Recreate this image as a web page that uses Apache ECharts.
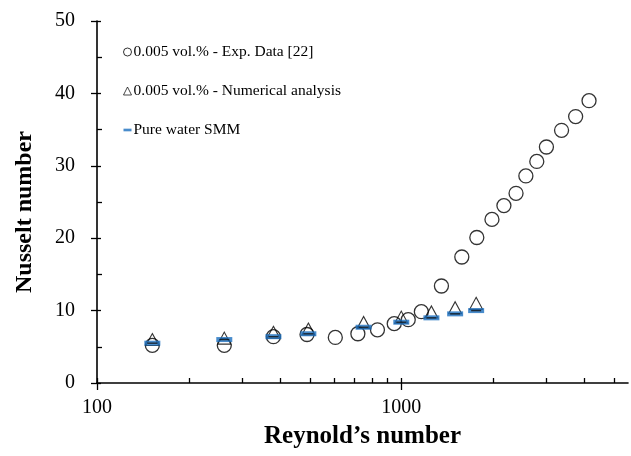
<!DOCTYPE html>
<html>
<head>
<meta charset="utf-8">
<script src="https://cdn.jsdelivr.net/npm/echarts@6/dist/echarts.min.js"></script>
<style>
  html, body { margin: 0; padding: 0; background: #fff; }
  #chart { width: 631px; height: 456px; }
</style>
</head>
<body>
<div id="chart"></div>
<script>
// Experimental data, 0.005 vol.% (Reynolds number, Nusselt number)
const expRe = [152, 262, 380, 490, 607, 720, 835, 948, 1054, 1164, 1355, 1581,
               1771, 1986, 2174, 2383, 2567, 2788, 2999, 3363, 3741, 4140];
const expNu = [5.2, 5.2, 6.4, 6.7, 6.3, 6.8, 7.35, 8.2, 8.75, 9.85, 13.4, 17.4,
               20.1, 22.6, 24.5, 26.2, 28.6, 30.6, 32.6, 34.9, 36.8, 39.0];

// Numerical analysis, 0.005 vol.%
const numRe = [152, 262, 380, 495, 752, 1000, 1256, 1503, 1762];
const numNu = [6.0, 6.2, 7.0, 7.45, 8.35, 9.1, 9.8, 10.4, 11.0];

// Pure water, single-phase model
const smmRe = [152, 262, 380, 495, 752, 1000, 1256, 1503, 1762];
const smmNu = [5.5, 6.0, 6.4, 6.8, 7.7, 8.4, 9.0, 9.55, 10.0];

const seriesNames = ['0.005 vol.% - Exp. Data [22]', '0.005 vol.% - Numerical analysis', 'Pure water SMM'];

// Axis ticks
const xMin = 100, xMax = 5560;
const xMajorTicks = [100, 1000];
const xMinorTicks = [200, 300, 400, 500, 600, 700, 800, 900, 2000, 3000, 4000, 5000];
const yMin = 0, yMax = 50, yStep = 10;

const FONT = '"Liberation Serif", "Times New Roman", serif';
const BLUE = '#1C6FBF';

const pairs = (xs, ys) => xs.map((x, i) => [x, ys[i]]);

const chart = echarts.init(document.getElementById('chart'), null, { renderer: 'canvas' });

chart.setOption({
  animation: false,
  backgroundColor: '#fff',
  grid: { left: 97, right: 0, top: 21, bottom: 73 },
  legend: {
    orient: 'vertical',
    left: 118,
    top: 39,
    itemWidth: 8,
    itemHeight: 8,
    itemGap: 23,
    selectedMode: false,
    textStyle: { fontFamily: FONT, fontSize: 15.5, color: '#000', padding: [0, 0, 0, -3] },
    data: [
      { name: seriesNames[0], icon: 'circle', itemStyle: { borderWidth: 1 } },
      { name: seriesNames[1], icon: 'triangle', itemStyle: { borderWidth: 0.9 } },
      { name: seriesNames[2], icon: 'path://M0,0H9V3H0Z' }
    ]
  },
  xAxis: {
    type: 'log',
    logBase: 10,
    min: xMin,
    max: xMax,
    name: 'Reynold\u2019s number',
    nameLocation: 'middle',
    nameGap: 41,
    nameTextStyle: { fontFamily: FONT, fontSize: 25, fontWeight: 'bold', color: '#000' },
    axisLine: { lineStyle: { color: '#000', width: 1.6 } },
    axisTick: { show: false },
    splitLine: { show: false },
    axisLabel: {
      fontFamily: FONT, fontSize: 20, color: '#000', margin: 15,
      formatter: v => (xMajorTicks.some(t => Math.abs(t - v) < 1e-6 * t) ? String(Math.round(v)) : '')
    }
  },
  yAxis: [
    {
      type: 'value',
      min: yMin, max: yMax, interval: yStep,
      name: 'Nusselt number',
      nameLocation: 'middle',
      nameGap: 60,
      nameTextStyle: { fontFamily: FONT, fontSize: 24, fontWeight: 'bold', color: '#000', padding: [0, 20, 0, 0] },
      axisLine: { show: true, lineStyle: { color: '#000', width: 1.6 } },
      axisTick: { show: true, length: 6, lineStyle: { color: '#000', width: 1.3 } },
      splitLine: { show: false },
      axisLabel: { fontFamily: FONT, fontSize: 20, color: '#000', margin: 22 }
    },
    {
      type: 'value',
      min: yMin, max: yMax, interval: yStep,
      position: 'left',
      axisLine: { show: false },
      axisTick: { show: true, inside: true, length: 4, lineStyle: { color: '#000', width: 1.3 } },
      minorTick: { show: true, splitNumber: 2, length: 5, lineStyle: { color: '#000', width: 1.3 } },
      splitLine: { show: false },
      axisLabel: { show: false }
    }
  ],
  series: [
    {
      name: seriesNames[0],
      type: 'scatter',
      symbol: 'circle',
      symbolSize: 14,
      itemStyle: { color: 'rgba(255,255,255,0)', borderColor: '#000', borderWidth: 1.3 },
      data: pairs(expRe, expNu),
      z: 2
    },
    {
      name: seriesNames[1],
      type: 'scatter',
      symbol: 'triangle',
      symbolSize: [13, 12],
      itemStyle: { color: 'rgba(255,255,255,0)', borderColor: '#000', borderWidth: 1.1 },
      data: pairs(numRe, numNu),
      z: 3
    },
    {
      name: seriesNames[2],
      type: 'scatter',
      symbol: 'rect',
      symbolSize: [16, 5],
      itemStyle: { color: BLUE },
      data: pairs(smmRe, smmNu),
      z: 4
    },
    {
      // dark centre stroke of the dash markers
      name: 'smm-core',
      type: 'scatter',
      symbol: 'rect',
      symbolSize: [10, 1.4],
      silent: true,
      itemStyle: { color: '#111' },
      data: pairs(smmRe, smmNu),
      z: 5
    }
  ]
});

// x-axis ticks on the log scale: major ticks cross the axis, minor ticks point inward
function drawXTicks() {
  const y0 = chart.convertToPixel({ yAxisIndex: 0 }, yMin);
  const els = [];
  xMajorTicks.forEach(v => {
    const x = Math.round(chart.convertToPixel({ xAxisIndex: 0 }, v)) + 0.5;
    els.push({ type: 'line', shape: { x1: x, y1: y0 - 5, x2: x, y2: y0 + 7 },
               style: { stroke: '#000', lineWidth: 1.3 }, z: 10 });
  });
  xMinorTicks.forEach(v => {
    const x = Math.round(chart.convertToPixel({ xAxisIndex: 0 }, v)) + 0.5;
    els.push({ type: 'line', shape: { x1: x, y1: y0 - 5, x2: x, y2: y0 },
               style: { stroke: '#000', lineWidth: 1.3 }, z: 10 });
  });
  chart.setOption({ graphic: els });
}
drawXTicks();
</script>
</body>
</html>
